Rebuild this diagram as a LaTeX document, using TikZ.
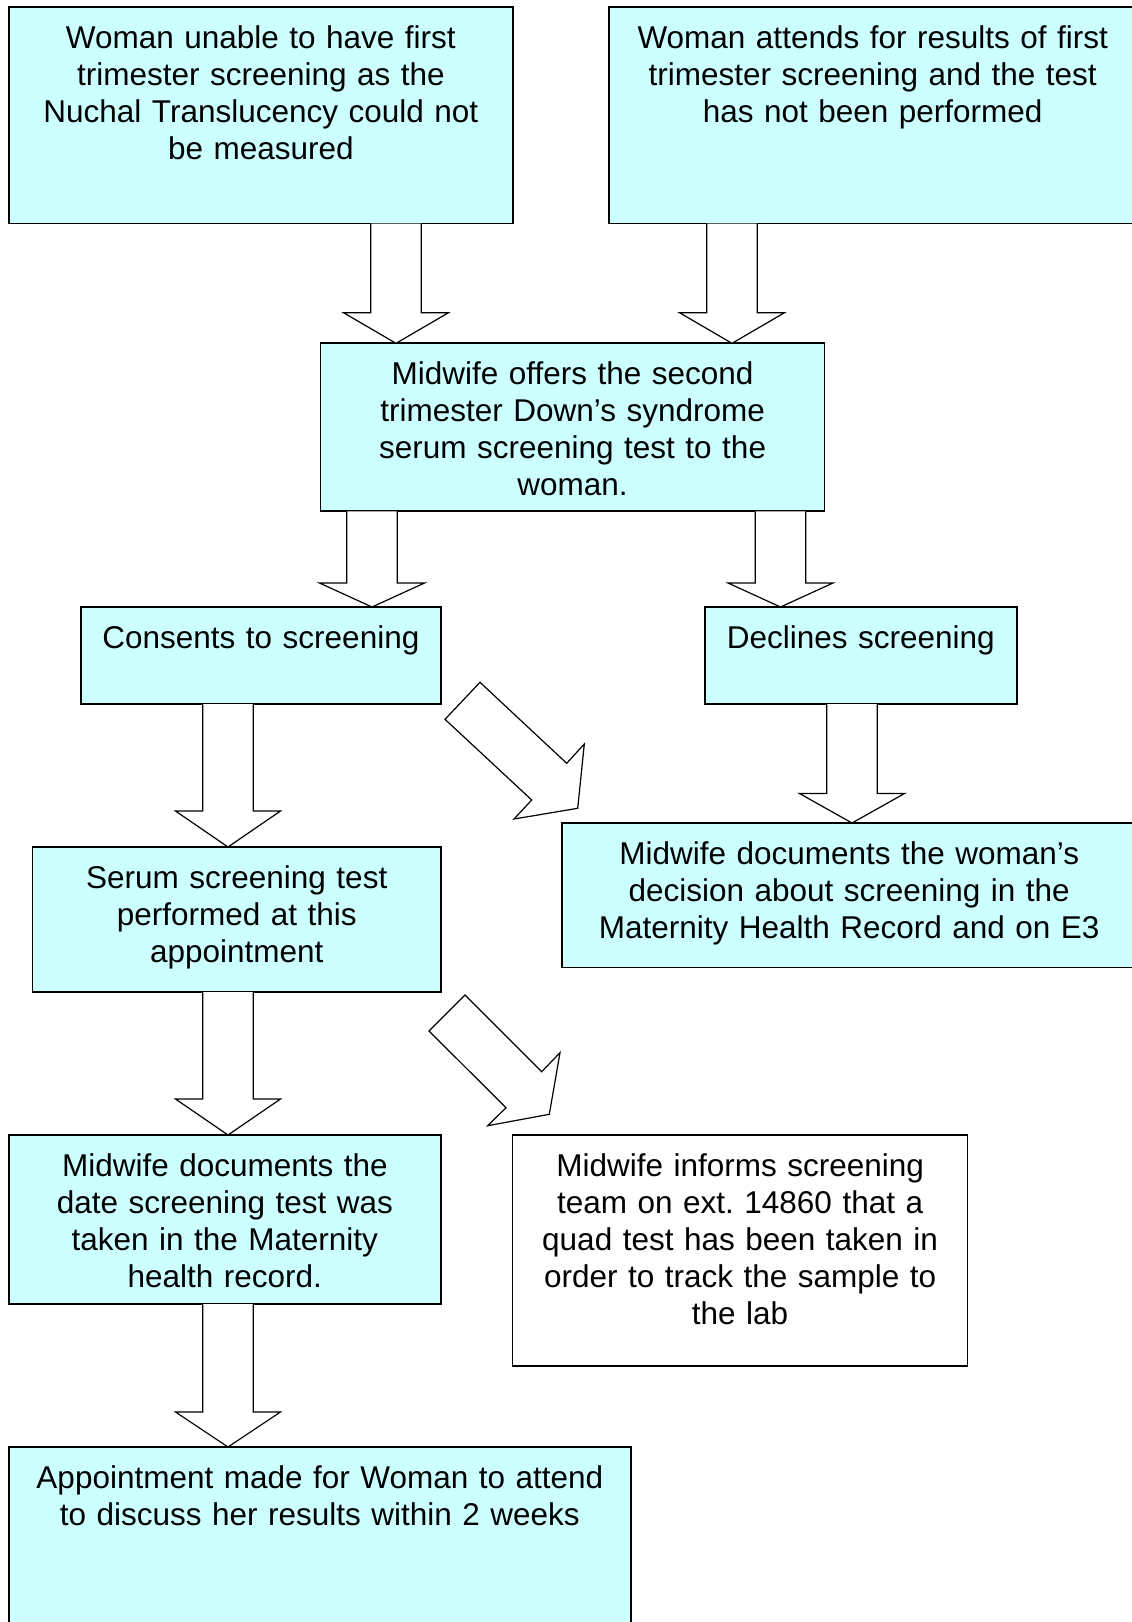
\documentclass[tikz,border=0pt]{standalone}
\usepackage{fontspec}
\setmainfont{Liberation Sans}
\usetikzlibrary{calc}
\definecolor{boxfill}{HTML}{CCFFFF}
\frenchspacing
\tikzset{
  box/.style={draw, line width=1.7pt, fill=boxfill, anchor=north west, outer sep=0pt,
    inner xsep=6pt, inner ysep=15pt, text height=26pt, align=center,
    font=\fontsize{31.5}{37}\selectfont\frenchspacing},
  barrow/.style={draw, fill=white, line width=1.2pt, line join=miter}
}
\newcommand\varrow[4]{%
  \draw[barrow] (#3-25.3,0 |- #1.south)
    -- ($(#3-25.3,0 |- #2.north)+(0,-#4)$)
    -- ($(#3-52.5,0 |- #2.north)+(0,-#4)$)
    -- (#3,0 |- #2.north)
    -- ($(#3+52.5,0 |- #2.north)+(0,-#4)$)
    -- ($(#3+25.3,0 |- #2.north)+(0,-#4)$)
    -- (#3+25.3,0 |- #1.south);}
\begin{document}
\begin{tikzpicture}[x=1pt, y=-1pt]
\useasboundingbox (0,0) rectangle (1132,1622);
\clip (0,0) rectangle (1132,1622);

\node[box, text width=492.3pt, text depth=160.5pt] (b1) at (8.7,7.1)
  {Woman unable to have first\\trimester screening as the\\Nuchal Translucency could not\\be measured};
\node[box, text width=516pt, text depth=160.5pt] (b2) at (608.7,7.1)
  {Woman attends for results of first\\trimester screening and the test\\has not been performed};
\node[box, text width=492pt, text depth=112pt] (mid) at (320.6,343.3)
  {Midwife offers the second\\trimester Down’s syndrome\\serum screening test to the\\woman.};
\node[box, text width=348pt, text depth=41pt] (cons) at (80.9,607)
  {Consents to screening};
\node[box, text width=300.3pt, text depth=41pt] (decl) at (704.7,607)
  {Declines screening};
\node[box, text width=396.5pt, text depth=89pt] (serum) at (32.5,847)
  {Serum screening test\\performed at this\\appointment};
\node[box, text width=563pt, text depth=88.5pt] (doc) at (561.7,823)
  {Midwife documents the woman’s\\decision about screening in the\\Maternity Health Record and on E3};
\node[box, text width=420.3pt, text depth=113pt] (middoc) at (8.7,1135)
  {Midwife documents the\\date screening test was\\taken in the Maternity\\health record.};
\node[box, fill=white, text width=443pt, text depth=175pt] (inform) at (512.6,1135)
  {Midwife informs screening\\team on ext. 14860 that a\\quad test has been taken in\\order to track the sample to\\the lab};
\node[box, text width=610.3pt, text depth=150pt] (appt) at (8.7,1447)
  {Appointment made for Woman to attend\\to discuss her results within 2 weeks};

\varrow{b1}{mid}{396}{30.6}
\varrow{b2}{mid}{732}{30.6}
\varrow{mid}{cons}{372}{24}
\varrow{mid}{decl}{780.5}{24}
\varrow{cons}{serum}{228}{36}
\varrow{decl}{doc}{852}{29.5}
\varrow{serum}{middoc}{228}{36}
\varrow{middoc}{appt}{228}{35}

% diagonal block arrows
\draw[barrow] (480,682.3) -- (445,719.3) -- (531.7,800) -- (514,819)
  -- (577.7,808.3) -- (584.3,744) -- (566.7,763.3) -- cycle;
\draw[barrow] (465,995) -- (429,1031) -- (506,1107.7) -- (487.7,1125.7)
  -- (549.3,1114.3) -- (560,1052.7) -- (541.7,1071.7) -- cycle;
\end{tikzpicture}
\end{document}
